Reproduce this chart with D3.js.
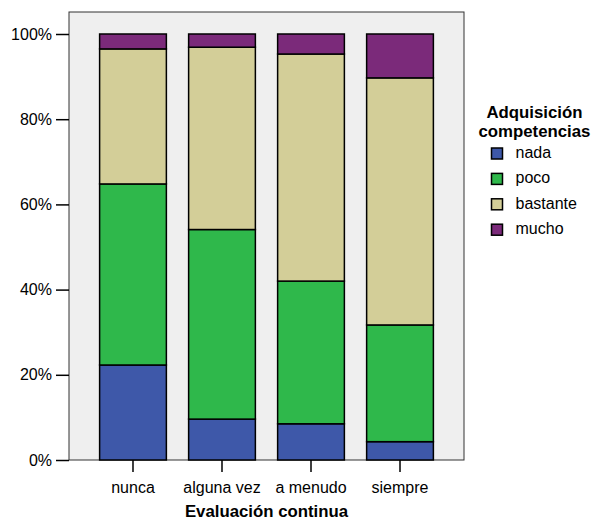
<!DOCTYPE html>
<html><head><meta charset="utf-8">
<script src="https://cdn.jsdelivr.net/npm/d3@7"></script>
<style>
body{margin:0;background:#fff;}
text{font-family:"Liberation Sans",Arial,sans-serif;}
</style>
</head><body>
<svg id="c" width="598" height="524"></svg>
<script>
const categories = ["nunca","alguna vez","a menudo","siempre"];
const seriesNames = ["nada","poco","bastante","mucho"];
const nada     = [22.3, 9.6, 8.5, 4.3];
const poco     = [42.5, 44.5, 33.5, 27.4];
const bastante = [31.7, 42.8, 53.3, 58.0];
const mucho    = [3.5, 3.1, 4.7, 10.3];
const colors = ["#3e58a9","#2fb84b","#d3ce98","#7b2a7a"];
const yTicks = [0,0.2,0.4,0.6,0.8,1.0];
const xTitle = "Evaluación continua";
const legendTitle = ["Adquisición","competencias"];

const series = [nada,poco,bastante,mucho];
const rows = categories.map((c,i)=>{
  const r = {cat:c};
  seriesNames.forEach((s,j)=>{ r[s] = series[j][i]; });
  return r;
});
const stacked = d3.stack().keys(seriesNames).offset(d3.stackOffsetExpand)(rows);

const svg = d3.select("#c");
const L=69, R=464, T=12, B=460;
const x = d3.scaleBand().domain(categories).range([L,R]).paddingInner(0.25).paddingOuter(0.344);
const y = d3.scaleLinear().domain([0,1]).range([B,34]);
const color = d3.scaleOrdinal().domain(seriesNames).range(colors);

svg.append("rect").attr("x",L).attr("y",T).attr("width",R-L).attr("height",B-T)
  .attr("fill","#efefef").attr("stroke","#333").attr("stroke-width",1);

svg.append("g").selectAll("g").data(stacked).join("g")
  .attr("fill",d=>color(d.key))
  .selectAll("rect").data(d=>d).join("rect")
  .attr("x",d=>x(d.data.cat))
  .attr("y",d=>y(d[1]))
  .attr("width",x.bandwidth())
  .attr("height",d=>y(d[0])-y(d[1]))
  .attr("stroke","#000").attr("stroke-width",1.5);

// y axis
const ya = svg.append("g").attr("transform",`translate(${L},0)`)
  .call(d3.axisLeft(y).tickValues(yTicks).tickFormat(d3.format(".0%")).tickSize(13).tickPadding(4));
ya.select(".domain").remove();
ya.selectAll(".tick line").attr("stroke","#000").attr("stroke-width",1.5);
ya.selectAll(".tick text").attr("font-size",16).attr("fill","#000")
  .attr("font-family","'Liberation Sans',Arial,sans-serif");

// x axis
const xa = svg.append("g").attr("transform",`translate(0,${B})`)
  .call(d3.axisBottom(x).tickSize(12).tickPadding(9.5));
xa.select(".domain").remove();
xa.selectAll(".tick line").attr("stroke","#000").attr("stroke-width",1.5);
xa.selectAll(".tick text").attr("font-size",16).attr("fill","#000")
  .attr("font-family","'Liberation Sans',Arial,sans-serif");

svg.append("text").attr("x",(L+R)/2).attr("y",517).attr("text-anchor","middle")
  .attr("font-size",16.8).attr("font-weight","bold").text(xTitle);

// legend
const lg = svg.append("g");
legendTitle.forEach((t,i)=>{
  lg.append("text").attr("x",534.5).attr("y",118+i*18.5).attr("text-anchor","middle")
    .attr("font-size",16.8).attr("font-weight","bold").text(t);
});
const items = lg.selectAll("g.item").data(seriesNames).join("g")
  .attr("transform",(d,i)=>`translate(491.5,${148+i*25.4})`);
items.append("rect").attr("width",11).attr("height",11)
  .attr("fill",d=>color(d)).attr("stroke","#000").attr("stroke-width",1.5);
items.append("text").attr("x",24).attr("y",9.8).attr("font-size",16).text(d=>d);
</script>
</body></html>
